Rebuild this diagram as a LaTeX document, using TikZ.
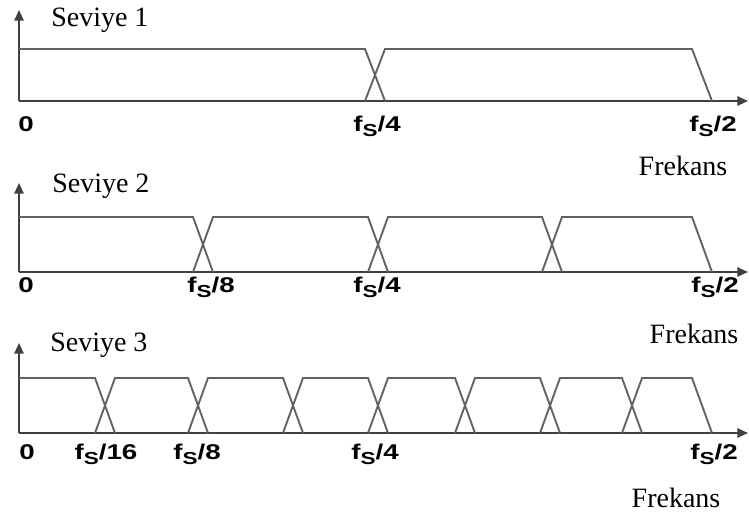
\documentclass[tikz,border=0pt]{standalone}
\usepackage{fontspec}
\setmainfont{Liberation Serif}
\newfontfamily\ticksans[FakeStretch=1.3]{Liberation Sans}
\usetikzlibrary{arrows.meta}

% f_S/n label with a lowered S
\newcommand{\fsub}[1]{f\raisebox{-3.5pt}{\fontsize{13}{13}\selectfont S}/#1}

\begin{document}
\begin{tikzpicture}[x=0.75pt, y=0.75pt, >={Triangle[length=8pt, width=7pt]},
	axis/.style={->, line width=1.4pt, black!75},
	band/.style={line width=1.4pt, black!62},
	tick/.style={font=\ticksans\bfseries\fontsize{16}{16}\selectfont, anchor=base, inner sep=0pt},
	title/.style={font=\fontsize{21}{24}\selectfont, anchor=base west, inner sep=0pt},
	freq/.style={font=\fontsize{21}{24}\selectfont, anchor=base, inner sep=0pt}]
	\useasboundingbox (0,0) rectangle (749,521);

	% level 1: two bands
	\begin{scope}[shift={(0,420)}]
		\coordinate (o1) at (19,0);
		\draw[axis] (o1) -- ++(0,91);
		\draw[axis] (o1) -- (748,0);
		\draw[band] (19,52) -- (365,52) -- (385,0);
		\foreach \a/\b in {375/702}
			\draw[band] (\a-10,0) -- (\a+10,52) -- (\b-10,52) -- (\b+10,0);
		\node[title] (lev1) at (51,74) {Seviye 1};
		\node[tick] (zero1) at (26,-31) {0};
		\node[tick] (quarter1) at (377,-31) {\fsub{4}};
		\node[tick] (half1) at (713,-31) {\fsub{2}};
		\node[freq] (freq1) at (683,-75) {Frekans};
	\end{scope}

	% level 2: four bands
	\begin{scope}[shift={(0,249)}]
		\coordinate (o2) at (19,0);
		\draw[axis] (o2) -- ++(0,89);
		\draw[axis] (o2) -- (748,0);
		\draw[band] (19,55) -- (193,55) -- (213,0);
		\foreach \a/\b in {203/378, 378/552, 552/702}
			\draw[band] (\a-10,0) -- (\a+10,55) -- (\b-10,55) -- (\b+10,0);
		\node[title] (lev2) at (52,79) {Seviye 2};
		\node[tick] (zero2) at (26,-21) {0};
		\node[tick] (eighth2) at (211,-21) {\fsub{8}};
		\node[tick] (quarter2) at (377,-21) {\fsub{4}};
		\node[tick] (half2) at (715,-21) {\fsub{2}};
		\node[freq] (freq2) at (694,-72) {Frekans};
	\end{scope}

	% level 3: eight bands
	\begin{scope}[shift={(0,88)}]
		\coordinate (o3) at (19,0);
		\draw[axis] (o3) -- ++(0,90);
		\draw[axis] (o3) -- (748,0);
		\draw[band] (19,55) -- (95,55) -- (115,0);
		\foreach \a/\b in {105/198, 198/293, 293/378, 378/465, 465/550, 550/632, 632/702}
			\draw[band] (\a-10,0) -- (\a+10,55) -- (\b-10,55) -- (\b+10,0);
		\node[title] (lev3) at (50,81) {Seviye 3};
		\node[tick] (zero3) at (27,-27) {0};
		\node[tick] (sixteenth3) at (106,-27) {\fsub{16}};
		\node[tick] (eighth3) at (197,-27) {\fsub{8}};
		\node[tick] (quarter3) at (375,-27) {\fsub{4}};
		\node[tick] (half3) at (714,-27) {\fsub{2}};
		\node[freq] (freq3) at (676,-74) {Frekans};
	\end{scope}
\end{tikzpicture}
\end{document}
